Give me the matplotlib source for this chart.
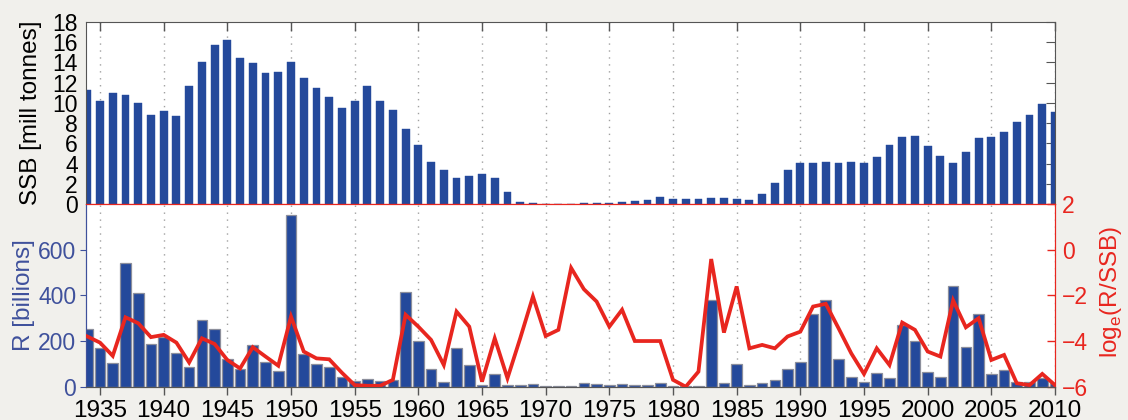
import numpy as np
import matplotlib
matplotlib.use("Agg")
import matplotlib.pyplot as plt

plt.rcParams['font.family'] = ['Liberation Sans', 'DejaVu Sans']

years = list(range(1934, 2011))

ssb = [11.3, 10.2, 11.0, 10.8, 10.0, 8.8, 9.2, 8.7, 11.7, 14.0,
       15.7, 16.2, 14.4, 13.9, 13.0, 13.1, 14.0, 12.5, 11.5, 10.6,
       9.5, 10.2, 11.7, 10.2, 9.3, 7.4, 5.8, 4.2, 3.4, 2.6,
       2.8, 3.0, 2.6, 1.16, 0.23, 0.1, 0.03, 0.03, 0.04, 0.07,
       0.1, 0.1, 0.17, 0.26, 0.36, 0.66, 0.46, 0.5, 0.5, 0.6,
       0.6, 0.5, 0.4, 1.0, 2.1, 3.4, 4.1, 4.1, 4.2, 4.1,
       4.2, 4.1, 4.6, 5.8, 6.6, 6.7, 5.7, 4.7, 4.1, 5.1,
       6.5, 6.6, 7.1, 8.1, 8.8, 9.9, 9.1]

recruits = [252, 168, 102, 541, 410, 187, 217, 149, 85, 290,
            253, 120, 79, 184, 107, 70, 752, 143, 100, 88,
            44, 25, 32, 25, 29, 416, 199, 78, 20, 171,
            97, 7, 54, 6, 6, 13, 3, 3, 3, 16,
            13, 7, 13, 7, 7, 15, 4, 3, 4, 378,
            18, 100, 7, 18, 29, 76, 110, 318, 380, 120,
            44, 19, 61, 38, 268, 198, 66, 44, 439, 173,
            318, 56, 73, 22, 22, 37, 18]

log_r_ssb = [-3.8, -4.07, -4.65, -2.96, -3.22, -3.83, -3.73, -4.07, -4.94, -3.88,
             -4.13, -4.83, -5.2, -4.27, -4.68, -5.08, -2.93, -4.46, -4.76, -4.8,
             -5.39, -5.93, -5.96, -5.96, -5.7, -2.85, -3.37, -3.95, -5.05, -2.71,
             -3.37, -5.78, -3.88, -5.63, -3.88, -2.05, -3.78, -3.51, -0.8, -1.73,
             -2.27, -3.37, -2.63, -4.0, -4.0, -4.0, -5.7, -6.0, -5.34, -0.41,
             -3.63, -1.61, -4.32, -4.17, -4.32, -3.8, -3.59, -2.49, -2.37, -3.44,
             -4.54, -5.44, -4.32, -5.05, -3.19, -3.51, -4.46, -4.68, -2.22, -3.40,
             -3.0, -4.83, -4.61, -5.85, -5.93, -5.44, -5.93]

year_ticks = list(range(1935, 2011, 5))
ssb_ticks = list(range(0, 19, 2))
r_ticks = [0, 200, 400, 600]
log_ticks = [-6, -4, -2, 0, 2]

BLUE = '#24499b'
BLUE_TXT = '#3f519c'
RED = '#e8261f'
GREY = '#555555'
BG = '#f1f0ec'
FS = 16.5

fig = plt.figure(figsize=(11.28, 4.2), dpi=100, facecolor=BG)
L, W = 86/1128, (1055-86)/1128
ax1 = fig.add_axes([L, 1-204/420, W, (204-22)/420])
ax2 = fig.add_axes([L, 1-386.7/420, W, (386.7-204)/420])
ax3 = ax2.twinx()
xlim = (1933.9, 2010)

# --- top panel: SSB ---
ax1.bar(years, ssb, width=0.62, color=BLUE, edgecolor=BLUE, linewidth=0.3, zorder=2)
ax1.set_xlim(*xlim)
ax1.set_ylim(0, 18)
ax1.set_yticks(ssb_ticks)
ax1.set_xticks(year_ticks)
ax1.set_xticklabels([])
for x in year_ticks:
    ax1.axvline(x, color='#a0a0a0', linestyle=(0, (1, 4)), linewidth=1.0, zorder=1)
ax1.tick_params(axis='x', direction='in', top=True, bottom=False, length=6.5, color=GREY, width=1)
ax1.tick_params(axis='y', direction='in', left=False, right=True, length=6.5, color=GREY,
                labelsize=FS, pad=6, labelcolor='black', labelleft=True)
for s in ['top', 'left', 'right']:
    ax1.spines[s].set_color(GREY)
ax1.spines['bottom'].set_color(RED)
ax1.set_ylabel('SSB [mill tonnes]', fontsize=17.5, color='black')
ax1.yaxis.set_label_coords(-0.045, 0.5)

# --- bottom panel: recruitment ---
ax2.bar(years, recruits, width=0.84, color=BLUE, edgecolor='#8c8f9c', linewidth=0.9, zorder=2)
ax2.set_xlim(*xlim)
ax2.set_ylim(0, 800)
ax2.set_yticks(r_ticks)
ax2.set_xticks(year_ticks)
ax2.set_xticklabels([str(y) for y in year_ticks], fontsize=17.5)
for x in year_ticks:
    ax2.axvline(x, color='#a0a0a0', linestyle=(0, (1, 4)), linewidth=1.0, zorder=1)
ax2.tick_params(axis='x', direction='out', bottom=True, top=False, length=5.5, color=GREY, width=1, pad=4)
ax2.tick_params(axis='y', direction='out', left=True, length=4, color=BLUE_TXT,
                labelsize=FS, labelcolor=BLUE_TXT, pad=3)
ax2.spines['left'].set_color(BLUE_TXT)
ax2.spines['bottom'].set_color(GREY)
ax2.spines['top'].set_color(RED)
ax2.spines['right'].set_color(RED)
ax2.set_ylabel('R [billions]', fontsize=17.5, color=BLUE_TXT)
ax2.yaxis.set_label_coords(-0.053, 0.5)

# --- twin axis: log(R/SSB) ---
ax3.plot(years, log_r_ssb, color=RED, linewidth=2.7, solid_joinstyle='miter', zorder=3)
ax3.set_ylim(-6, 2)
ax3.set_yticks(log_ticks)
ax3.set_yticklabels(['\u22126', '\u22124', '\u22122', '0', '2'])
ax3.tick_params(axis='y', direction='in', right=True, length=6, color=RED, width=1,
                labelsize=FS, labelcolor=RED, pad=5)
ax3.tick_params(axis='x', direction='in', top=True, bottom=False, labeltop=False,
                labelbottom=False, length=6.5, color=RED, width=1)
for s in ['top', 'right']:
    ax3.spines[s].set_color(RED)
ax3.spines['left'].set_color(BLUE_TXT)
ax3.spines['bottom'].set_color(GREY)
ax3.set_ylabel(r'log$_\mathregular{e}$(R/SSB)', fontsize=17.5, color=RED)
ax3.yaxis.set_label_coords(1.044, 0.52)

fig.savefig('out.png', dpi=100, facecolor=BG)
